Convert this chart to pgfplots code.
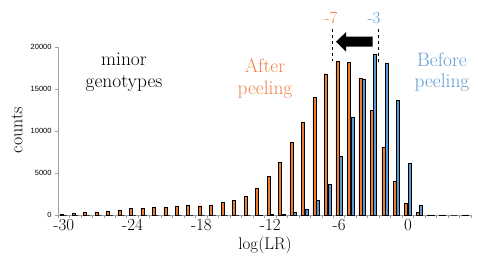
\documentclass[border=0pt]{standalone}
\usepackage{pgfplots}
\pgfplotsset{compat=1.18}
\usepackage{fontspec}
\newfontfamily\arialfont{Liberation Sans}
\definecolor{barorange}{RGB}{237,125,49}
\definecolor{barblue}{RGB}{91,155,213}
\definecolor{txtorange}{RGB}{240,130,70}
\definecolor{txtblue}{RGB}{95,155,213}
\definecolor{axisgray}{RGB}{160,160,160}
\begin{document}
\begin{tikzpicture}[x=1bp,y=1bp]
\path[use as bounding box] (0,0) rectangle (478,260);
\begin{axis}[
  at={(58bp,45bp)}, anchor=south west,
  scale only axis, width=413bp, height=168bp,
  xmin=-30.5, xmax=5.5, ymin=0, ymax=20000,
  ybar=0.4bp, bar width=3bp,
  axis x line*=bottom, axis y line*=left,
  axis line style={axisgray, line width=0.8pt, -},
  tick align=outside,
  major tick length=3bp,
  every tick/.style={axisgray, line width=0.7pt},
  xtick={-30.5,-29.5,...,5.5},
  xticklabels={},
  extra x ticks={-30,-24,-18,-12,-6,0},
  extra x tick labels={-30,-24,-18,-12,-6,0},
  extra x tick style={major tick length=0pt, tick style={draw=none},
    xticklabel style={font=\fontsize{17}{17}\selectfont, yshift=-1bp}},
  ytick={0,5000,10000,15000,20000},
  yticklabels={0,5000,10000,15000,20000},
  scaled y ticks=false,
  yticklabel style={font=\arialfont\fontsize{7.5}{8}\selectfont},
  clip=false,
]
\addplot[fill=barorange, draw=black, line width=0.5pt] coordinates {
(-30,80) (-29,150) (-28,270) (-27,370) (-26,480) (-25,600) (-24,760) (-23,820)
(-22,950) (-21,950) (-20,1080) (-19,1150) (-18,1080) (-17,1220) (-16,1510)
(-15,1700) (-14,2250) (-13,3200) (-12,4580) (-11,6230) (-10,8620) (-9,11080)
(-8,14010) (-7,16790) (-6,18250) (-5,18210) (-4,16270) (-3,12500) (-2,8060)
(-1,4010) (0,1390) (1,300) (2,30) (3,20) (4,0) (5,20)};
\addplot[fill=barblue, draw=black, line width=0.5pt] coordinates {
(-30,0) (-29,0) (-28,0) (-27,0) (-26,0) (-25,0) (-24,0) (-23,0)
(-22,0) (-21,0) (-20,0) (-19,0) (-18,0) (-17,0) (-16,0)
(-15,0) (-14,0) (-13,30) (-12,50) (-11,100) (-10,340) (-9,730)
(-8,1750) (-7,3670) (-6,6960) (-5,11630) (-4,16150) (-3,19170) (-2,18060)
(-1,13610) (0,6150) (1,1110) (2,30) (3,30) (4,0) (5,20)};
\end{axis}
\node[rotate=90, font=\fontsize{18}{18}\selectfont] at (17,130) {counts};
\node[font=\fontsize{17}{17}\selectfont] at (265,15) {log(LR)};
\begin{scope}[font=\fontsize{19.5}{20}\selectfont]
\node[anchor=base] at (124,195) {minor};
\node[anchor=base] at (124,173) {genotypes};
\node[anchor=base, text=txtorange] at (265,188) {After};
\node[anchor=base, text=txtorange] at (265,166) {peeling};
\node[anchor=base, text=txtblue] at (442,193.3) {Before};
\node[anchor=base, text=txtblue] at (442,173) {peeling};
\end{scope}
\node[font=\fontsize{17}{17}\selectfont, text=txtorange] at (331,242) {-7};
\node[font=\fontsize{17}{17}\selectfont, text=txtblue] at (374,242) {-3};
\draw[dashed, line width=0.6pt] (332.7,231) -- (332.7,199);
\draw[dashed, line width=0.6pt] (378,231) -- (378,198);
\fill (372.7,213.3) -- (346,213.3) -- (346,208.3) -- (336,218.3) -- (346,227.8) -- (346,223.3) -- (372.7,223.3) -- cycle;
\end{tikzpicture}
\end{document}
